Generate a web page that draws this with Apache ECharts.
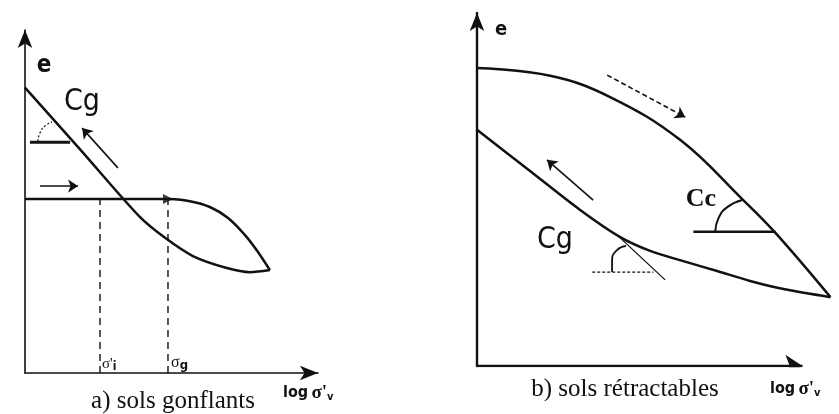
<!DOCTYPE html>
<html>
<head>
<meta charset="utf-8">
<script src="https://cdn.jsdelivr.net/npm/echarts@6/dist/echarts.min.js"></script>
<style>
  html, body { margin: 0; padding: 0; background: #fff; }
  #chart { width: 839px; height: 414px; }
</style>
</head>
<body>
<div id="chart"></div>
<script>
// Schematic e - log σ'v paths, in arbitrary units (axes run 0..100)

// a) sols gonflants
const aLoadFlat    = [[0, 50.7], [48.8, 50.7]];
const aLoadCurve   = [[48.8, 50.7], [56.3, 50.1], [63.1, 48.4], [69.3, 45.2], [75.1, 40.2], [79.5, 35.3], [83.6, 30.0]];
const aSwell       = [[0, 83.2], [18.8, 65.2], [39.2, 45.5], [47.8, 39.4], [57.3, 34.1], [68.9, 30.6], [76.8, 29.4], [83.6, 30.0]];
const aStressMarks = [25.6, 48.8];          // σ'i and σg
const aCgTick      = [[1.7, 67.3], [15.4, 67.3]];
const aCgArc       = [[4.4, 67.6], [5.1, 70.0], [6.8, 72.0], [9.2, 73.2]];
const aArrowCg     = [[31.7, 59.8], [19.5, 71.4]];
const aArrowFlat   = [[5.1, 54.5], [18.1, 54.5]];

// b) sols rétractables
const bUpper  = [[0, 84.4], [22.5, 82.2], [40.9, 76.2], [62.5, 64.0], [81.8, 47.0], [91.7, 37.7], [108.6, 19.5]];
const bLower  = [[0, 66.9], [15.8, 55.6], [31.7, 44.2], [44.0, 36.5], [53.2, 32.6], [63.4, 29.7], [73.8, 26.9], [83.9, 24.1], [94.2, 21.8], [108.6, 19.5]];
const bCcTick  = [[66.5, 38.0], [91.7, 38.0]];
const bCcArc   = [[73.2, 38.0], [74.2, 41.9], [76.9, 45.0], [81.5, 47.0]];
const bCgTick  = [[35.4, 26.6], [54.2, 26.6]];
const bCgTangent = [[44.0, 36.3], [57.8, 24.4]];
const bCgArc   = [[41.5, 26.6], [41.5, 30.0], [43.1, 32.9], [45.8, 34.0]];
const bArrowCc = [[40.0, 82.4], [64.0, 70.5]];
const bArrowCg = [[35.7, 47.0], [21.5, 58.4]];
const bAxisX   = [[0, 0], [100, 0]];

const INK = '#111';

function path(g, pts, opts) {
  opts = opts || {};
  return {
    type: 'line', xAxisIndex: g, yAxisIndex: g, data: pts,
    smooth: opts.smooth || false,
    symbol: 'none', clip: false, silent: true,
    lineStyle: { color: INK, width: opts.width || 2.5, type: opts.type || 'solid' },
    z: 3
  };
}
function arrow(g, pts, opts) {
  opts = opts || {};
  return {
    type: 'lines', coordinateSystem: 'cartesian2d', xAxisIndex: g, yAxisIndex: g,
    symbol: ['none', 'arrow'], symbolSize: opts.size || 9, silent: true,
    lineStyle: { color: INK, width: opts.width || 1.6, type: opts.type || 'solid', opacity: 1, curveness: 0 },
    data: [{ coords: pts }], z: 4
  };
}
function axis(g, lw, max, showLine) {
  return {
    gridIndex: g, type: 'value', min: 0, max: max,
    axisLine: { show: showLine, symbol: ['none', 'arrow'], symbolSize: [11, 18],
                lineStyle: { color: INK, width: lw } },
    axisTick: { show: false }, axisLabel: { show: false }, splitLine: { show: false }
  };
}

const series = [
  path(0, aLoadFlat),
  path(0, aLoadCurve, { smooth: 0.35 }),
  path(0, aSwell, { smooth: 0.3 }),
  ...aStressMarks.map(x => path(0, [[x, 0], [x, aLoadFlat[0][1]]], { width: 1.4, type: [7, 5] })),
  path(0, aCgTick, { width: 3 }),
  path(0, aCgArc, { smooth: 0.5, width: 1.2, type: [2, 2] }),
  arrow(0, aArrowCg, { size: 10 }),
  arrow(0, aArrowFlat, { size: 10 }),
  {
    type: 'scatter', xAxisIndex: 0, yAxisIndex: 0, silent: true,
    data: [aLoadFlat[1]], symbol: 'triangle', symbolRotate: -90, symbolSize: [10, 10],
    itemStyle: { color: INK }, z: 5
  },

  path(1, bUpper, { smooth: 0.4 }),
  path(1, bLower, { smooth: 0.3 }),
  path(1, bCcTick, { width: 2.5 }),
  path(1, bCcArc, { smooth: 0.5, width: 2 }),
  path(1, bCgTick, { width: 1.3, type: [3, 2] }),
  path(1, bCgTangent, { width: 1.3 }),
  path(1, bCgArc, { smooth: 0.5, width: 1.8 }),
  arrow(1, bArrowCc, { type: [5, 3], width: 1.6, size: 10 }),
  arrow(1, bArrowCg, { size: 10 }),
  arrow(1, bAxisX, { width: 2.4, size: 17 })
];

const sans = '"Liberation Sans Narrow", "DejaVu Sans Condensed", "Liberation Sans", sans-serif';
const serif = '"Liberation Serif", "DejaVu Serif", serif';

function txt(x, y, text, font, align) {
  return { type: 'text', x: x, y: y, silent: true,
           style: { text: text, font: font, fill: INK, align: align || 'center', verticalAlign: 'middle' } };
}
function logLabel(x, y) {
  return { type: 'text', x: x, y: y, silent: true,
           style: { text: '{l|log} {s|σ\'}{v|v}', fill: INK, align: 'left', verticalAlign: 'middle',
                    rich: { l: { font: 'bold 16px ' + sans }, s: { font: 'bold 19px ' + serif },
                            v: { font: 'bold 11px ' + sans, verticalAlign: 'bottom', padding: [8, 0, 0, 0] } } } };
}

const chart = echarts.init(document.getElementById('chart'), null, { renderer: 'canvas' });
chart.setOption({
  animation: false,
  backgroundColor: '#fff',
  grid: [
    { left: 25, top: 30, width: 293, height: 343 },
    { left: 477, top: 13, width: 358, height: 353 }
  ],
  xAxis: [axis(0, 1.6, 100, true), axis(1, 2.4, 110, false)],
  yAxis: [axis(0, 1.6, 100, true), axis(1, 2.4, 100, true)],
  series: series,
  graphic: [
    txt(44, 66, 'e', 'bold 24px ' + sans),
    txt(82, 102, 'Cg', '30px ' + sans),
    { type: 'text', x: 102, y: 364, silent: true,
      style: { text: '{s|σ\'}{i|i}', fill: INK, align: 'left', verticalAlign: 'middle',
               rich: { s: { font: '15px ' + serif }, i: { font: 'bold 12px ' + sans, padding: [6, 0, 0, 0] } } } },
    { type: 'text', x: 171, y: 363, silent: true,
      style: { text: '{s|σ}{g|g}', fill: INK, align: 'left', verticalAlign: 'middle',
               rich: { s: { font: '16px ' + serif }, g: { font: 'bold 13px ' + sans, padding: [5, 0, 0, 0] } } } },
    txt(173, 401, 'a) sols gonflants', '25px ' + serif),
    logLabel(283, 393),

    txt(501, 30, 'e', 'bold 20px ' + sans),
    txt(701, 199, 'Cc', 'bold 26px ' + serif),
    txt(555, 240, 'Cg', '30px ' + sans),
    txt(625, 389, 'b) sols rétractables', '25px ' + serif),
    logLabel(770, 389)
  ]
});
</script>
</body>
</html>
